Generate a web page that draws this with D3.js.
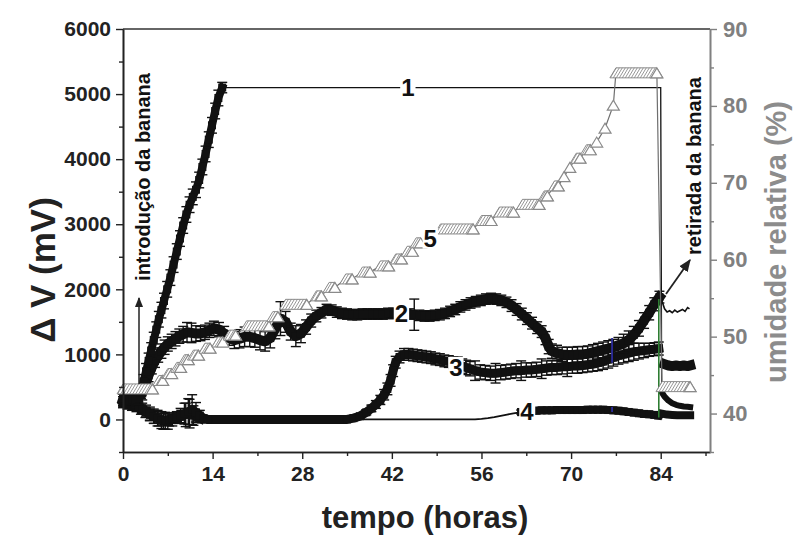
<!DOCTYPE html>
<html><head><meta charset="utf-8">
<script src="https://cdn.jsdelivr.net/npm/d3@7"></script>
<style>body{margin:0;background:#fff}text{font-family:"Liberation Sans",Arial,sans-serif;font-weight:bold}</style>
</head><body><svg id="c" width="799" height="540"></svg>
<script>
// ---------------- DATA ----------------
const xTicks = [0,14,28,42,56,70,84];
const xMinorTicks = [7,21,35,49,63,77,91];
const yLeftTicks = [0,1000,2000,3000,4000,5000,6000];
const yLeftMinor = [-500,500,1500,2500,3500,4500,5500];
const yRightTicks = [40,50,60,70,80,90];
const yRightMinor = [35,45,55,65,75,85];

// series 1 (rise, then saturated)
const s1T = [0,0.5,1,1.5,2,2.5,2.8,3.2,3.6,4,4.4,4.8,5.2,5.6,6,6.4,6.9,7.4,7.9,8.4,8.9,9.4,9.9,10.4,10.9,11.4,11.9,12.4,12.9,13.4,13.9,14.4,14.9,15.5];
const s1V = [320,300,290,310,300,320,420,580,740,900,1060,1220,1380,1540,1680,1820,2000,2180,2380,2580,2780,2980,3150,3300,3420,3530,3680,3880,4080,4300,4520,4740,4940,5100];
const s1E = [80,80,80,80,80,90,100,110,120,120,120,120,120,120,120,120,120,120,120,120,120,120,120,120,120,120,120,120,120,120,120,120,120,80];
const s1FlatT = [15.5,84.0,84.15];
const s1FlatV = [5100,5100,420];
const s1PostT = [84.15,84.6,85.2,85.8,86.4,87,87.6,88.2,88.6];
const s1PostV = [420,350,290,250,225,210,200,195,190];

// series 2
const s2T = [0,0.6,1.2,1.8,2.4,3.0,3.5,4.0,4.5,5.0,5.5,6.0,6.5,7.0,7.6,8.2,8.8,9.4,10,10.7,11.4,12.1,12.8,13.5,14.2,15,15.8,16.6,17.4,18.2,19,19.8,20.6,21.4,22.2,23,23.8,24.6,25.4,26.2,27,27.8,28.6,29.4,30.2,31,31.8,32.6,33.4,34.2,35,35.8,36.6,37.4,38.2,39,39.8,40.6,41.4,42.2,43,43.8,44.8,45.5,46.3,47.1,47.9,48.7,49.5,50.3,51.1,51.9,52.7,53.5,54.3,55.1,55.9,56.7,57.5,58.3,59.1,59.9,60.7,61.5,62.3,63.1,63.9,64.7,65.4,66.0,66.5,67.0,67.8,68.6,69.4,70.2,71,71.8,72.6,73.4,74.2,75,75.8,76.6,77.4,78.2,79,79.8,80.6,81.4,82.2,83,83.8];
const s2V = [300,280,310,330,340,400,540,680,800,900,980,1050,1110,1160,1200,1240,1280,1310,1340,1330,1320,1320,1340,1370,1400,1380,1320,1250,1220,1240,1270,1270,1250,1220,1200,1250,1400,1550,1500,1350,1280,1320,1420,1520,1590,1640,1690,1680,1650,1630,1620,1610,1610,1620,1620,1620,1620,1620,1630,1630,1630,1630,1620,1610,1600,1590,1590,1600,1610,1630,1660,1690,1730,1760,1790,1810,1830,1850,1860,1850,1830,1800,1750,1690,1620,1550,1480,1410,1350,1250,1120,1050,1020,1000,990,990,1000,1000,1010,1030,1050,1070,1090,1110,1140,1170,1220,1300,1400,1520,1640,1770,1880];
const s2E = [90,90,90,90,90,100,100,100,100,100,100,110,110,110,110,110,110,120,150,150,120,110,110,110,110,110,110,110,130,140,150,150,140,150,150,150,160,260,160,130,160,140,110,100,90,80,80,80,80,80,80,80,80,80,80,80,80,80,80,80,80,80,80,240,80,80,80,80,80,80,80,80,80,80,80,80,80,80,80,80,80,80,90,90,90,90,90,90,90,100,110,110,120,110,120,120,120,120,120,120,120,120,120,120,120,140,140,130,120,120,110,100,90];
const s2PostT = [83.8,84.2,84.6,85,85.4,85.8,86.2,86.6,87,87.4,87.8,88.2,88.5];
const s2PostV = [1880,1820,1700,1650,1670,1640,1680,1650,1670,1690,1660,1720,1700];

// series 3
const s3T = [0,0.6,1.2,1.8,2.4,3,3.6,4.2,4.8,5.4,6,6.6,7.2,7.8,8.4,9,9.6,10.2,10.8,11.4,12,12.6,13.2,35,36,37,38,38.8,39.5,40.2,40.8,41.3,41.8,42.2,42.6,43.2,43.9,44.6,45.3,46,46.7,47.4,48.1,48.8,49.5,50.2,50.9,51.6,52.3,53,53.6,54.2,55,55.8,56.6,57.4,58.2,59,59.8,60.6,61.4,62.2,63,63.8,64.6,65.4,66.2,67,67.8,68.6,69.4,70.2,71,71.8,72.6,73.4,74.2,75,75.8,76.6,77.4,78.2,79,79.8,80.6,81.4,82.2,83,83.7];
const s3V = [280,260,250,230,200,170,130,90,50,20,-10,-20,0,20,40,60,90,120,150,110,60,20,0,0,20,50,110,170,230,300,380,470,600,750,880,960,1000,1000,990,980,970,960,950,930,920,900,890,870,850,820,800,780,750,730,720,710,710,720,730,740,750,750,760,760,770,780,790,800,800,810,810,820,820,830,840,850,870,890,920,950,980,1000,1020,1040,1050,1060,1070,1080,1090];
const s3E = [70,70,70,70,70,80,90,100,110,120,130,130,100,80,80,110,160,200,230,150,80,40,20,10,20,30,40,50,60,70,80,90,90,90,90,90,90,90,90,90,90,90,90,90,90,90,90,90,110,110,110,110,150,110,110,110,150,110,110,110,110,150,110,110,110,150,110,110,110,110,150,110,110,110,110,110,120,120,130,130,130,130,130,130,120,110,100,100,100];
const s3PostT = [84.6,85.2,85.8,86.4,87,87.6,88.2,88.6];
const s3PostV = [850,830,820,830,820,830,820,830];

// series 4
const s4T = [0,0.7,1.4,2.1,2.8,3.5,4.2,4.9,5.6,6.3,7,7.7,8.4,9.1,9.8,10.4,11,11.6,12.2];
const s4V = [240,220,200,180,150,110,70,40,10,-30,-40,-10,20,40,70,90,60,30,0];
const s4E = [60,60,60,60,70,80,90,100,110,120,110,90,80,100,180,220,150,80,30];
const s4ThinT = [12.2,55,56,57,58,59,60,61,62];
const s4ThinV = [0,0,8,20,35,55,75,95,110];
const s4bT = [62.2,63,63.8,64.6,65.4,66.2,67,67.8,68.6,69.4,70.2,71,71.8,72.6,73.4,74.2,75,75.8,76.6,77.4,78.2,79,79.8,80.6,81.4,82.2,83,83.6];
const s4bV = [115,120,130,135,140,140,140,145,145,145,145,145,145,150,150,150,150,145,140,135,125,115,105,95,85,80,70,60];
const s4bE = [30,30,30,30,30,30,30,30,30,30,30,30,30,30,30,30,30,30,30,30,30,30,30,30,30,30,30,30];
const s4PostT = [84.2,85,85.8,86.6,87.4,88.2,88.6];
const s4PostV = [90,75,70,65,65,65,65];

// series 5 (relative humidity, right axis): plateau start, end, value
const s5Start = [0,5.6,7.0,8.4,9.6,11.0,12.8,14.8,16.6,19.3,23.4,25.4,30.2,32.2,34.8,37.4,40.2,42.6,44.4,45.8,49.6,56.0,58.8,62.4,65.8,67.4,68.9,69.8,70.8,72.4,74.0,75.3,76.6,77.0,84.2];
const s5End   = [4.6,6.2,7.6,9.0,10.2,11.8,13.6,15.6,17.6,22.8,24.2,28.7,31.0,33.1,35.8,38.6,41.5,43.5,45.2,46.5,54.7,57.5,61.0,65.0,66.3,68.0,68.9,69.8,71.4,73.0,74.0,75.3,76.6,83.4,88.6];
const s5RH    = [43.2,44.3,45.2,46.0,47.0,47.6,48.5,49.3,50.2,51.4,52.6,54.2,55.3,56.4,57.5,58.4,59.2,60.1,61.1,62.2,64.0,65.1,66.2,67.2,68.3,69.6,70.8,72.0,73.2,74.3,75.3,77.1,80.1,84.3,43.5];

// coloured vertical traces
const greenT = [83.7,83.7]; const greenV = [1850,30];
const blueT = [76.4,76.4]; const blueV1 = [870,1250]; const blueV2 = [115,190];

// labels
const seriesLabels = [{t:44.5,v:5100,txt:"1"},{t:43.5,v:1630,txt:"2"},{t:52.0,v:800,txt:"3"},{t:63.1,v:125,txt:"4"}];
const label5 = {t:48.0, rh:62.8, txt:"5"};

// ---------------- CHART ----------------
const svg = d3.select("#c");
const L=123,R=710,T=29,B=452;
const x = d3.scaleLinear().domain([0,91.7]).range([L,R]);
const yL = d3.scaleLinear().domain([-500,6000]).range([B,T]);
const yR = d3.scaleLinear().domain([35,90]).range([B,T]);
const gray = "#808080";

const defs = svg.append("defs");
const pat = defs.append("pattern").attr("id","hatch").attr("patternUnits","userSpaceOnUse")
  .attr("width",3).attr("height",10);
pat.append("rect").attr("width",3).attr("height",10).attr("fill","#fff");
pat.append("path").attr("d","M-6,10L0,0M-3,10L3,0M0,10L6,0M3,10L9,0").attr("stroke","#8a8a8a").attr("stroke-width",0.9);
defs.append("marker").attr("id","arr").attr("viewBox","0 0 10 10").attr("refX",9).attr("refY",5)
  .attr("markerWidth",7).attr("markerHeight",7).attr("orient","auto")
  .append("path").attr("d","M0,1L10,5L0,9z").attr("fill","#222");

// frame
svg.append("line").attr("x1",L).attr("x2",R).attr("y1",T).attr("y2",T).attr("stroke","#333").attr("stroke-width",1.6);

const plot = svg.append("g");
const zip = (t,v)=>t.map((d,i)=>[d,v[i]]);
const lineL = d3.line().x(d=>x(d[0])).y(d=>yL(d[1]));

function band(t,v,e,w){
  const pts = zip(t,v);
  plot.append("path").attr("d",lineL(pts)).attr("fill","none").attr("stroke","#111")
    .attr("stroke-width",w).attr("stroke-linejoin","round").attr("stroke-linecap","square");
  if(e){
    const g = plot.append("g").attr("stroke","#111").attr("stroke-width",1.4);
    pts.forEach((p,i)=>{
      const xx=x(p[0]), y1=yL(p[1]+e[i]), y2=yL(p[1]-e[i]);
      g.append("line").attr("x1",xx).attr("x2",xx).attr("y1",y1).attr("y2",y2);
      g.append("line").attr("x1",xx-5).attr("x2",xx+5).attr("y1",y1).attr("y2",y1);
      g.append("line").attr("x1",xx-5).attr("x2",xx+5).attr("y1",y2).attr("y2",y2);
    });
    plot.append("g").selectAll("rect").data(pts).join("rect")
      .attr("x",d=>x(d[0])-4).attr("y",d=>yL(d[1])-4).attr("width",8).attr("height",8).attr("fill","#111");
  }
}
function thin(t,v,w,col){
  plot.append("path").attr("d",lineL(zip(t,v))).attr("fill","none").attr("stroke",col||"#111").attr("stroke-width",w);
}

thin(s4ThinT,s4ThinV,1.8);
thin([13.2,35],[0,0],1.8);
band(s4T,s4V,s4E,8);
band(s4bT,s4bV,s4bE,8);
band(s4PostT,s4PostV,null,8);
band(s3T,s3V,s3E,9);
band(s3PostT,s3PostV,null,10);
band(s2T,s2V,s2E,10);
thin(s2PostT,s2PostV,1.6);
band(s1T,s1V,s1E,8);
thin(s1FlatT,s1FlatV,1.3);
band(s1PostT,s1PostV,null,6);
thin(greenT,greenV,1.6,"#2e7d32");
thin(blueT,blueV1,1.8,"#2b2b9a");
thin(blueT,blueV2,1.8,"#2b2b9a");

// series 5
const s5 = s5Start.map((d,i)=>({t0:d,t1:s5End[i],v:s5RH[i]}));
const linePts = [];
s5.forEach(d=>{linePts.push([d.t0,d.v]);linePts.push([d.t1,d.v]);});
plot.append("path").attr("d",d3.line().x(d=>x(d[0])).y(d=>yR(d[1]))(linePts))
  .attr("fill","none").attr("stroke","#6f6f6f").attr("stroke-width",1.2);
const g5 = plot.append("g");
s5.forEach(d=>{
  const x0=x(d.t0),x1=x(d.t1),yc=yR(d.v);
  if(x1>x0) g5.append("path").attr("d",`M${x0-6},${yc+5}L${x0},${yc-5}L${x1},${yc-5}L${x1+6},${yc+5}Z`)
    .attr("fill","url(#hatch)").attr("stroke","#8a8a8a").attr("stroke-width",1);
  g5.append("path").attr("d",`M${x1-6},${yc+5}L${x1},${yc-5}L${x1+6},${yc+5}Z`)
    .attr("fill","#fff").attr("stroke","#8a8a8a").attr("stroke-width",1.2);
});

// series labels
function knockLabel(px,py,txt){
  const t = svg.append("text").attr("x",px).attr("y",py).attr("text-anchor","middle")
    .attr("dominant-baseline","central").attr("font-size",24).attr("fill","#111").text(txt);
  const bb = t.node().getBBox();
  svg.insert("rect",()=>t.node()).attr("x",bb.x-1).attr("y",bb.y+3).attr("width",bb.width+2).attr("height",bb.height-6).attr("fill","#fff");
}
seriesLabels.forEach(d=>knockLabel(x(d.t),yL(d.v),d.txt));
knockLabel(x(label5.t),yR(label5.rh),label5.txt);

// axes
const ax = svg.append("g");
const fmt = d3.format("d");
function styleAxis(g,col,fs){
  g.select(".domain").attr("stroke",col).attr("stroke-width",1.6);
  g.selectAll(".tick line").attr("stroke",col).attr("stroke-width",1.4);
  g.selectAll(".tick text").attr("fill",col).attr("font-size",fs).attr("font-weight","bold")
   .attr("font-family","Liberation Sans, Arial");
}
const gl = ax.append("g").attr("transform",`translate(${L},0)`)
  .call(d3.axisLeft(yL).tickValues(yLeftTicks).tickFormat(fmt).tickSize(7).tickPadding(5).tickSizeOuter(0));
styleAxis(gl,"#222",21);
const glm = ax.append("g").attr("transform",`translate(${L},0)`)
  .call(d3.axisLeft(yL).tickValues(yLeftMinor).tickSize(4).tickFormat("").tickSizeOuter(0));
styleAxis(glm,"#222",21);
const gb = ax.append("g").attr("transform",`translate(0,${B})`)
  .call(d3.axisBottom(x).tickValues(xTicks).tickFormat(fmt).tickSize(7).tickPadding(7).tickSizeOuter(0));
styleAxis(gb,"#222",21);
const gbm = ax.append("g").attr("transform",`translate(0,${B})`)
  .call(d3.axisBottom(x).tickValues(xMinorTicks).tickSize(4).tickFormat("").tickSizeOuter(0));
styleAxis(gbm,"#222",21);
const gr = ax.append("g").attr("transform",`translate(${R},0)`)
  .call(d3.axisRight(yR).tickValues(yRightTicks).tickFormat(fmt).tickSize(7).tickPadding(6).tickSizeOuter(0));
styleAxis(gr,gray,22);
const grm = ax.append("g").attr("transform",`translate(${R},0)`)
  .call(d3.axisRight(yR).tickValues(yRightMinor).tickSize(4).tickFormat("").tickSizeOuter(0));
styleAxis(grm,gray,22);

// titles
svg.append("text").attr("transform","translate(42,270) rotate(-90)").attr("text-anchor","middle")
  .attr("dominant-baseline","central").attr("font-size",35).attr("fill","#222").text("Δ V (mV)");
svg.append("text").attr("x",425).attr("y",528).attr("text-anchor","middle")
  .attr("font-size",31).attr("fill","#222").text("tempo (horas)");
svg.append("text").attr("transform","translate(776,242) rotate(-90)").attr("text-anchor","middle")
  .attr("dominant-baseline","central").attr("font-size",29).attr("fill","#8c8c8c").text("umidade relativa (%)");

// annotations
svg.append("text").attr("transform","translate(143,177) rotate(-90)").attr("text-anchor","middle")
  .attr("dominant-baseline","central").attr("font-size",20).attr("fill","#111").text("introdução da banana");
svg.append("line").attr("x1",139).attr("x2",139).attr("y1",384).attr("y2",298)
  .attr("stroke","#222").attr("stroke-width",1.5).attr("marker-end","url(#arr)");
svg.append("text").attr("transform","translate(694,166) rotate(-90)").attr("text-anchor","middle")
  .attr("dominant-baseline","central").attr("font-size",20).attr("fill","#111").text("retirada da banana");
svg.append("line").attr("x1",666).attr("x2",690).attr("y1",294).attr("y2",260)
  .attr("stroke","#222").attr("stroke-width",1.8).attr("marker-end","url(#arr)");
</script></body></html>
